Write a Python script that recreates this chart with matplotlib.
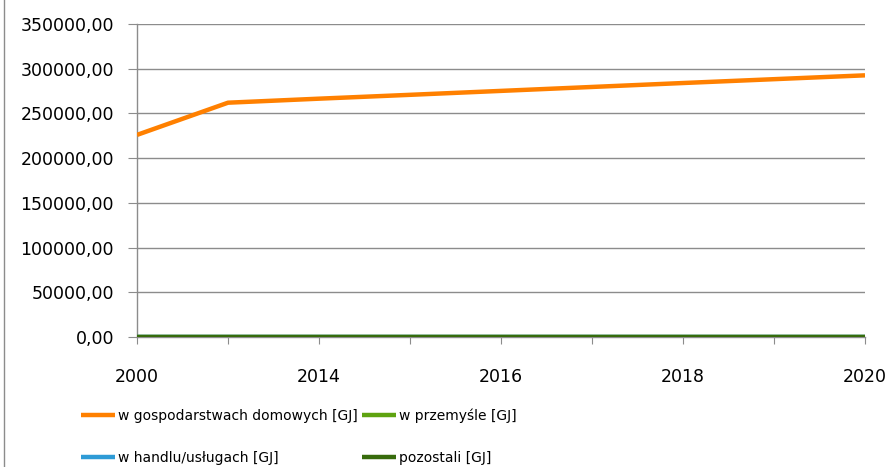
import matplotlib.pyplot as plt
from matplotlib.lines import Line2D
from matplotlib.ticker import FuncFormatter

# chart data
years = ['2000', '2013', '2014', '2015', '2016', '2017', '2018', '2019', '2020']
households = [226000, 262000, 266500, 270800, 275200, 279600, 284000, 288300, 292600]
industry = [0, 0, 0, 0, 0, 0, 0, 0, 0]
trade = [0, 0, 0, 0, 0, 0, 0, 0, 0]
other = [0, 0, 0, 0, 0, 0, 0, 0, 0]

labels = ['w gospodarstwach domowych [GJ]', 'w przemyśle [GJ]',
          'w handlu/usługach [GJ]', 'pozostali [GJ]']
colors = ['#ff8000', '#5ea310', '#2e9bd6', '#376b0c']

plt.rcParams['font.family'] = ['DejaVu Sans']

fig = plt.figure(figsize=(8.91, 4.67), dpi=100)
ax = fig.add_axes([137 / 891, 1 - 337 / 467, (865 - 137) / 891, (337 - 24) / 467])

x = list(range(len(years)))
series = [households, industry, trade, other]
handles = []
for vals, lab, col in zip(series, labels, colors):
    h, = ax.plot(x, vals, color=col, lw=3.2, label=lab, solid_capstyle='butt', zorder=3)
    handles.append(h)

ax.set_xlim(0, len(years) - 1)
ax.set_ylim(0, 350000)
ax.set_yticks(range(0, 350001, 50000))
ax.yaxis.set_major_formatter(FuncFormatter(lambda v, p: f'{v:.2f}'.replace('.', ',')))
ax.set_xticks(x)
ax.set_xticklabels([y if i % 2 == 0 else '' for i, y in enumerate(years)])

ax.grid(axis='y', color='#8c8c8c', lw=1.0)
ax.set_axisbelow(True)
for s in ['top', 'right']:
    ax.spines[s].set_visible(False)
for s in ['left', 'bottom']:
    ax.spines[s].set_color('#8c8c8c')
    ax.spines[s].set_linewidth(1.0)

ax.tick_params(axis='y', length=6.5, pad=10, color='#8c8c8c', labelsize=12.5)
ax.tick_params(axis='x', length=5, pad=17, color='#8c8c8c', labelsize=12.5)

# legend fills column by column, so reorder to get row-wise layout
order = [0, 2, 1, 3]
fig.legend([handles[i] for i in order], [labels[i] for i in order],
           loc='center left', bbox_to_anchor=(81 / 891, 1 - 436.5 / 467), ncol=2,
           frameon=False, fontsize=10, handlelength=2.45, handletextpad=0.22,
           columnspacing=0.29, labelspacing=2.05, borderpad=0, borderaxespad=0)

# chart border on the left edge
fig.add_artist(Line2D([3.5 / 891, 3.5 / 891], [0, 1], color='#8c8c8c', lw=1.0,
                      transform=fig.transFigure))

fig.savefig('out.png', dpi=100)
